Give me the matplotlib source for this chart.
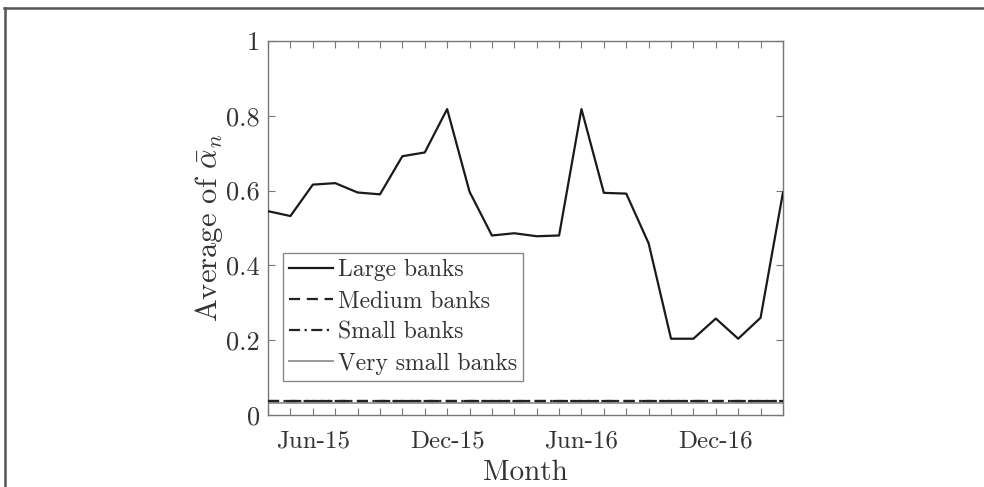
import numpy as np
import matplotlib
matplotlib.use('Agg')
import matplotlib.pyplot as plt
from matplotlib.lines import Line2D

plt.rcParams['font.family'] = 'serif'
plt.rcParams['font.serif'] = ['cmr10', 'DejaVu Serif']
plt.rcParams['mathtext.fontset'] = 'cm'
plt.rcParams['axes.formatter.use_mathtext'] = True

# месяцы от Apr-15 до Mar-17
months = ['Apr-15', 'May-15', 'Jun-15', 'Jul-15', 'Aug-15', 'Sep-15', 'Oct-15', 'Nov-15',
          'Dec-15', 'Jan-16', 'Feb-16', 'Mar-16', 'Apr-16', 'May-16', 'Jun-16', 'Jul-16',
          'Aug-16', 'Sep-16', 'Oct-16', 'Nov-16', 'Dec-16', 'Jan-17', 'Feb-17', 'Mar-17']
shown_labels = ['Jun-15', 'Dec-15', 'Jun-16', 'Dec-16']

large = [0.545, 0.532, 0.616, 0.620, 0.595, 0.590, 0.692, 0.702, 0.818, 0.597, 0.480, 0.486,
         0.478, 0.480, 0.818, 0.594, 0.592, 0.459, 0.204, 0.204, 0.258, 0.204, 0.260, 0.595]
medium = [0.038, 0.038, 0.038, 0.038, 0.038, 0.038, 0.038, 0.038, 0.038, 0.038, 0.038, 0.038,
          0.038, 0.038, 0.038, 0.038, 0.038, 0.038, 0.038, 0.038, 0.038, 0.038, 0.038, 0.038]
small = [0.037, 0.037, 0.037, 0.037, 0.037, 0.037, 0.037, 0.037, 0.037, 0.037, 0.037, 0.037,
         0.037, 0.037, 0.037, 0.037, 0.037, 0.037, 0.037, 0.037, 0.037, 0.037, 0.037, 0.037]
very_small = [0.031, 0.031, 0.031, 0.031, 0.031, 0.031, 0.031, 0.031, 0.031, 0.031, 0.031, 0.031,
              0.031, 0.031, 0.031, 0.031, 0.031, 0.031, 0.031, 0.031, 0.031, 0.031, 0.031, 0.031]

x = np.arange(len(months))

fig = plt.figure(figsize=(9.84, 4.87), dpi=100)
ax = fig.add_axes([0.2724, 0.1478, 0.5233, 0.7680])

ax.plot(x, very_small, color='#9a9a9a', lw=1.4, label='Very small banks', zorder=2)
ax.plot(x, medium, color='#222222', lw=1.6, ls=(0, (5, 3)), label='Medium banks', zorder=3)
ax.plot(x, small, color='#222222', lw=1.6, ls=(0, (5, 2, 1, 2)), label='Small banks', zorder=3)
ax.plot(x, large, color='#1a1a1a', lw=1.6, label='Large banks', zorder=4)

ax.set_xlim(0, len(months) - 1)
ax.set_ylim(0, 1)
ax.set_xticks(x)
ax.set_xticklabels([m if m in shown_labels else '' for m in months])
ax.set_yticks([0, 0.2, 0.4, 0.6, 0.8, 1.0])
ax.set_yticklabels(['0', '0.2', '0.4', '0.6', '0.8', '1'])

for s in ax.spines.values():
    s.set_color('#777777')
    s.set_linewidth(1.0)
ax.tick_params(direction='in', top=True, right=True, length=5, width=0.8,
               color='#777777', labelcolor='#333333')
ax.tick_params(axis='x', pad=11, labelsize=18)
ax.tick_params(axis='y', pad=6, labelsize=19)

ax.set_xlabel('Month', fontsize=21, color='#333333', labelpad=5)
ax.set_ylabel(r'Average of $\bar{\alpha}_n$', fontsize=22, color='#333333', labelpad=1)

handles, labels = ax.get_legend_handles_labels()
order = ['Large banks', 'Medium banks', 'Small banks', 'Very small banks']
hmap = dict(zip(labels, handles))
leg = ax.legend([hmap[k] for k in order], order, loc='lower left',
                bbox_to_anchor=(0.03, 0.092), fontsize=17, frameon=True, fancybox=False,
                edgecolor='#888888', framealpha=1, handlelength=1.85, handletextpad=0.2,
                borderpad=0.25, labelspacing=0.38, borderaxespad=0)
leg.get_frame().set_linewidth(1.0)
for t in leg.get_texts():
    t.set_color('#333333')

# рамка рисунка
fig.add_artist(Line2D([0.004, 1.0], [1 - 7.5 / 487, 1 - 7.5 / 487], transform=fig.transFigure,
                      color='#555555', lw=1.8))
fig.add_artist(Line2D([0.005, 0.005], [0, 1 - 7.5 / 487], transform=fig.transFigure,
                      color='#555555', lw=1.8))

fig.savefig('out.png', dpi=100)
